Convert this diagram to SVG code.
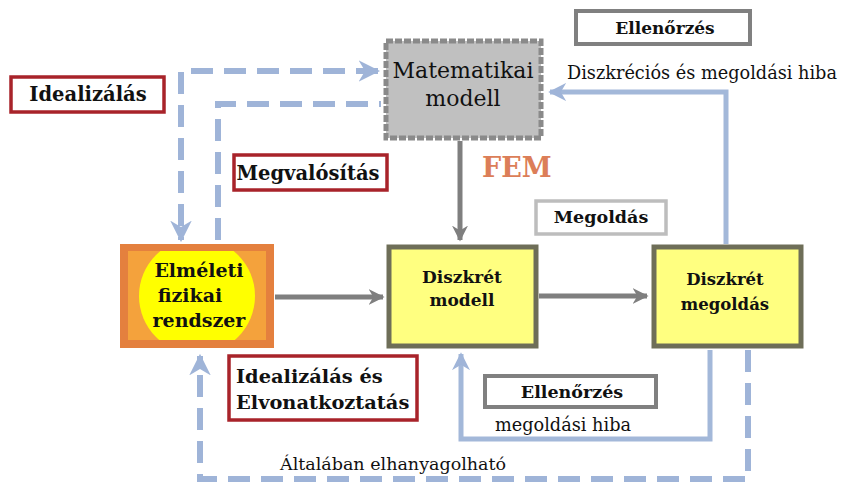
<svg xmlns="http://www.w3.org/2000/svg" width="842" height="490" viewBox="0 0 842 490">
<defs>
<marker id="ag" viewBox="0 0 10 10" refX="9" refY="5" markerWidth="3.2" markerHeight="3.2" orient="auto" markerUnits="strokeWidth"><path d="M0,0 L10,5 L0,10 L3,5 z" fill="#7f7f7f"/></marker>
<marker id="ab" viewBox="0 0 10 10" refX="9" refY="5" markerWidth="3.6" markerHeight="3.6" orient="auto-start-reverse" markerUnits="strokeWidth"><path d="M0,0 L10,5 L0,10 L3,5 z" fill="#9fb4d8"/></marker>
<clipPath id="clipE"><rect x="128" y="251" width="138" height="89"/></clipPath>
</defs>
<style>
text{font-family:"DejaVu Serif",serif;fill:#111}
.b{font-weight:bold}
.c{text-anchor:middle}
.red{fill:#fff;stroke:#a8232a;stroke-width:3.5}
.gr{fill:#fff;stroke:#808080;stroke-width:4}
.ylw{fill:#ffff80;stroke:#6e6e58;stroke-width:5}
.gl{fill:none;stroke:#7f7f7f;stroke-width:5}
.bs{fill:none;stroke:#a3b8d9;stroke-width:5}
.bd{fill:none;stroke:#9fb4d8;stroke-width:6;stroke-dasharray:22 11}
</style>
<g id="connectors">
<path class="bd" d="M378,71 H181 V240" marker-start="url(#ab)" marker-end="url(#ab)"/>
<path class="bd" d="M218,240 V104 H381"/>
<path class="gl" d="M460,141 V240" marker-end="url(#ag)"/>
<path class="gl" d="M275,297 H383" marker-end="url(#ag)"/>
<path class="gl" d="M539,296 H647" marker-end="url(#ag)"/>
<path class="bs" d="M726,244 V92 H550" marker-end="url(#ab)"/>
<path class="bs" d="M710,350 V439 H461 V354" marker-end="url(#ab)"/>
<path class="bd" d="M748,350 V479 H200 V356" marker-end="url(#ab)"/>
</g>
<g id="matematikai">
<rect x="386" y="41" width="155" height="97" fill="#c0c0c0" stroke="#8a8a8a" stroke-width="5" stroke-dasharray="7 2"/>
<text class="c" x="463" y="78" font-size="22">Matematikai</text>
<text class="c" x="463" y="106" font-size="22">modell</text>
</g>
<g id="idealizalas">
<rect class="red" x="11" y="77" width="153" height="35"/>
<text class="b c" x="88" y="101" font-size="19.5">Idealizálás</text>
</g>
<g id="megvalositas">
<rect class="red" x="234" y="155" width="153" height="35"/>
<text class="b c" x="308" y="180" font-size="19.5">Megvalósítás</text>
</g>
<g id="elmeleti">
<rect x="120" y="244" width="154" height="104" fill="#e4803e"/>
<rect x="128" y="251" width="138" height="89" fill="#f4a23c"/>
<circle cx="197" cy="296" r="58" fill="#ffff00" clip-path="url(#clipE)"/>
<text class="b c" x="199" y="277" font-size="19">Elméleti</text>
<text class="b c" x="190" y="302" font-size="19">fizikai</text>
<text class="b c" x="199" y="327" font-size="19">rendszer</text>
</g>
<g id="fem">
<text class="b" x="482" y="177" font-size="27" style="fill:#dc7e58">FEM</text>
</g>
<g id="diszkret-modell">
<rect class="ylw" x="389" y="247" width="147" height="99"/>
<text class="b c" x="462" y="283" font-size="17">Diszkrét</text>
<text class="b c" x="462" y="306" font-size="17">modell</text>
</g>
<g id="megoldas">
<rect x="536" y="201" width="130" height="33" fill="#fff" stroke="#bdbdbd" stroke-width="3.5"/>
<text class="b c" x="601" y="223" font-size="17.5">Megoldás</text>
</g>
<g id="diszkret-megoldas">
<rect class="ylw" x="654" y="247" width="147" height="99"/>
<text class="b c" x="725" y="285" font-size="16.5">Diszkrét</text>
<text class="b c" x="725" y="310" font-size="16.5">megoldás</text>
</g>
<g id="ellenorzes-top">
<rect class="gr" x="576" y="11" width="174" height="33"/>
<text class="b c" x="665" y="34" font-size="17">Ellenőrzés</text>
<text x="567" y="79" font-size="17.7">Diszkréciós és megoldási hiba</text>
</g>
<g id="ellenorzes-bottom">
<rect class="gr" x="485" y="376" width="171" height="31"/>
<text class="b c" x="572" y="398" font-size="17.5">Ellenőrzés</text>
<text x="495" y="431" font-size="17.7">megoldási hiba</text>
</g>
<g id="idealizalas-es">
<rect class="red" x="229" y="356" width="188" height="64"/>
<text class="b" x="236" y="383" font-size="19.4">Idealizálás és</text>
<text class="b" x="236" y="409" font-size="19.4">Elvonatkoztatás</text>
</g>
<g id="altalaban">
<text x="280" y="470" font-size="17.5">Általában elhanyagolható</text>
</g>
</svg>
